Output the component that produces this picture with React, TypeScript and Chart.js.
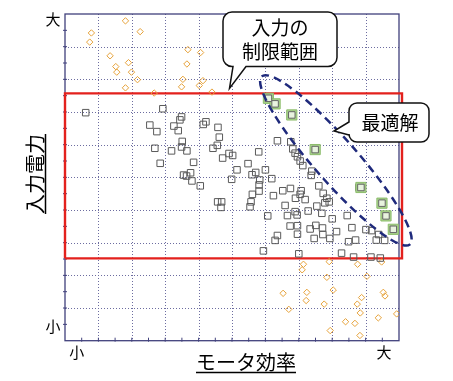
import React, { useEffect, useRef } from 'react';
import { Chart, registerables } from 'chart.js';
Chart.register(...registerables);

// Axis tick labels (placed at scale values)
const xTickValues = [0.35, 9.55];
const xTickLabels = ['小', '大'];
const yTickValues = [0.45, 9.83];
const yTickLabels = ['小', '大'];
const xTitle = 'モータ効率';
const yTitle = '入力電力';
const limitLabel = ['入力の', '制限範囲'];
const optimumLabel = '最適解';

// Input limit rectangle (data units)
const limitX = [0, 10.09];
const limitY = [2.52, 7.57];

// Feasible designs (gray squares)
const grayX = [0.62, 2.93, 3.49, 3.44, 2.54, 3.26, 2.75, 3.39, 3.51, 2.69, 3.19, 3.49, 3.65, 2.85, 3.85, 3.55, 3.64, 3.76, 3.80, 4.05,
  4.22, 4.14, 4.58, 4.62, 4.56, 4.43, 6.36, 6.76, 4.72, 4.91, 5.02, 5.80, 5.48, 5.15, 5.71, 5.60, 6.00, 6.19, 4.99, 5.83,
  5.81, 5.81, 6.82, 6.89, 6.96, 7.04, 7.12, 7.39, 7.37, 5.61, 5.57, 5.54, 4.57, 4.69, 4.67, 6.24, 6.52, 6.75, 6.59, 6.89,
  6.07, 6.66, 6.74, 6.96, 6.96, 6.36, 6.29, 5.94, 7.00, 7.07, 7.04, 7.60, 7.73, 7.84, 7.91, 7.78, 6.90, 7.19, 7.54, 6.95,
  7.28, 7.69, 8.00, 8.45, 7.34, 7.51, 7.71, 7.72, 7.93, 7.46, 8.13, 8.59, 9.01, 9.18, 9.39, 9.32, 9.57, 8.49, 8.70, 8.28,
  8.64, 9.16, 9.44, 8.80];
const grayY = [6.98, 7.10, 6.85, 6.76, 6.60, 6.57, 6.40, 6.43, 6.10, 5.89, 5.81, 5.93, 5.81, 5.43, 5.46, 5.07, 5.04, 5.14, 4.89, 4.74,
  6.70, 6.62, 6.53, 6.23, 5.98, 5.89, 6.12, 6.09, 5.59, 5.73, 5.67, 5.78, 5.42, 5.23, 5.15, 5.08, 5.23, 4.96, 4.94, 4.92,
  4.77, 4.58, 5.87, 5.74, 5.63, 5.50, 5.36, 5.19, 5.06, 4.48, 4.25, 4.10, 4.25, 4.25, 4.08, 4.44, 4.59, 4.66, 4.14, 3.95,
  3.82, 3.83, 3.51, 3.52, 3.26, 3.22, 3.07, 2.75, 2.66, 4.59, 4.48, 4.74, 4.51, 4.36, 4.25, 4.22, 4.36, 4.32, 4.12, 3.85,
  3.97, 3.90, 3.73, 3.83, 3.42, 3.53, 3.45, 3.25, 3.13, 3.13, 3.34, 3.46, 3.40, 3.37, 3.25, 3.08, 3.07, 3.03, 3.08, 2.68,
  2.56, 2.56, 2.53, 4.69];

// Designs outside the input limit (orange diamonds)
const orangeX = [1.81, 0.79, 2.25, 0.74, 1.35, 3.68, 4.06, 1.52, 1.90, 1.55, 1.99, 3.65, 2.17, 3.53, 4.13, 1.81, 3.49, 4.02, 2.67, 4.40,
  7.91, 7.14, 7.10, 8.76, 9.48, 7.84, 9.04, 6.53, 7.24, 7.22, 8.03, 9.53, 9.58, 8.88, 8.75, 7.76, 6.70, 8.84, 9.38, 9.93,
  8.40, 8.68, 7.94, 8.83];
const orangeY = [9.79, 9.42, 9.46, 9.14, 8.72, 8.91, 8.82, 8.39, 8.51, 8.22, 8.22, 8.47, 7.99, 8.00, 7.96, 7.74, 7.77, 7.81, 7.58, 7.61,
  2.42, 2.34, 2.17, 2.34, 2.41, 1.94, 1.97, 1.45, 1.48, 1.23, 1.55, 1.48, 1.37, 1.32, 1.12, 1.12, 0.96, 0.85, 0.70, 0.82,
  0.58, 0.53, 0.31, 0.16];

// Optimal designs (green)
const greenX = [6.09, 6.29, 6.79, 7.49, 8.86, 9.49, 9.61, 9.83];
const greenY = [7.42, 7.25, 6.91, 5.85, 4.69, 4.21, 3.82, 3.41];

// Optimum region ellipse centre (data units)
const ellipseCenter = { x: 8.11, y: 5.52 };

const JP = '"Noto Sans CJK JP", "Noto Sans", sans-serif';

const decor = {
  id: 'decor',
  beforeDatasetsDraw(chart: any) {
    const { ctx, chartArea: a, scales } = chart;
    const x = scales.x, y = scales.y;
    ctx.save();
    ctx.strokeStyle = '#6c6ca0';
    ctx.lineWidth = 1;
    ctx.setLineDash([1, 2]);
    for (let v = 1; v < 10; v++) {
      const px = Math.round(x.getPixelForValue(v)) + 0.5;
      ctx.beginPath(); ctx.moveTo(px, a.top); ctx.lineTo(px, a.bottom); ctx.stroke();
      const py = Math.round(y.getPixelForValue(v)) + 0.5;
      ctx.beginPath(); ctx.moveTo(a.left, py); ctx.lineTo(a.right, py); ctx.stroke();
    }
    ctx.setLineDash([]);
    ctx.strokeStyle = '#40407c';
    ctx.lineWidth = 1.3;
    ctx.strokeRect(a.left, a.top, a.right - a.left, a.bottom - a.top);
    ctx.lineWidth = 1;
    for (let v = 0.5; v < 10; v += 0.5) {
      const px = x.getPixelForValue(v);
      ctx.beginPath(); ctx.moveTo(px, a.bottom + 1); ctx.lineTo(px, a.bottom - 3); ctx.stroke();
      const py = y.getPixelForValue(v);
      ctx.beginPath(); ctx.moveTo(a.left - 2, py); ctx.lineTo(a.left + 2, py); ctx.stroke();
    }
    // tick labels
    ctx.fillStyle = '#000';
    ctx.font = `15px ${JP}`;
    ctx.textAlign = 'center';
    ctx.textBaseline = 'middle';
    xTickValues.forEach((v, i) => ctx.fillText(xTickLabels[i], x.getPixelForValue(v), a.bottom + 12));
    yTickValues.forEach((v, i) => ctx.fillText(yTickLabels[i], a.left - 12, y.getPixelForValue(v)));
    // axis titles
    ctx.font = `20px ${JP}`;
    const cx = (a.left + a.right) / 2 + 14;
    ctx.fillText(xTitle, cx, 362);
    const wx = ctx.measureText(xTitle).width;
    ctx.lineWidth = 1.5;
    ctx.strokeStyle = '#000';
    ctx.beginPath(); ctx.moveTo(cx - wx / 2, 372.5); ctx.lineTo(cx + wx / 2, 372.5); ctx.stroke();
    ctx.save();
    ctx.translate(35, 174);
    ctx.rotate(-Math.PI / 2);
    ctx.fillText(yTitle, 0, 0);
    const wy = ctx.measureText(yTitle).width;
    ctx.beginPath(); ctx.moveTo(-wy / 2, 10.5); ctx.lineTo(wy / 2, 10.5); ctx.stroke();
    ctx.restore();
    ctx.restore();
  },
  afterDraw(chart: any) {
    const { ctx, scales } = chart;
    const x = scales.x, y = scales.y;
    ctx.save();
    // dashed ellipse
    ctx.strokeStyle = '#1f2a7c';
    ctx.lineWidth = 2.5;
    ctx.setLineDash([8, 5]);
    ctx.beginPath();
    ctx.ellipse(x.getPixelForValue(ellipseCenter.x), y.getPixelForValue(ellipseCenter.y), 112, 21.5, (48.6 * Math.PI) / 180, 0, Math.PI * 2);
    ctx.stroke();
    ctx.setLineDash([]);
    // callout 1
    ctx.lineWidth = 1.5;
    ctx.strokeStyle = '#111';
    ctx.fillStyle = '#fff';
    ctx.beginPath();
    ctx.moveTo(246, 66.5);
    ctx.lineTo(328, 66.5);
    ctx.arcTo(337, 66.5, 337, 57, 9);
    ctx.lineTo(337, 21);
    ctx.arcTo(337, 12, 328, 12, 9);
    ctx.lineTo(232, 12);
    ctx.arcTo(223, 12, 223, 21, 9);
    ctx.lineTo(223, 57);
    ctx.arcTo(223, 66.5, 232, 66.5, 9);
    ctx.lineTo(233, 66.5);
    ctx.lineTo(229.5, 88.5);
    ctx.closePath();
    ctx.fill();
    ctx.stroke();
    // callout 2
    ctx.beginPath();
    ctx.moveTo(349, 122);
    ctx.lineTo(349, 111);
    ctx.arcTo(349, 103, 357, 103, 8);
    ctx.lineTo(421, 103);
    ctx.arcTo(429, 103, 429, 111, 8);
    ctx.lineTo(429, 134);
    ctx.arcTo(429, 142, 421, 142, 8);
    ctx.lineTo(357, 142);
    ctx.arcTo(349, 142, 349, 134, 8);
    ctx.lineTo(349, 135);
    ctx.lineTo(334, 131);
    ctx.closePath();
    ctx.fill();
    ctx.stroke();
    ctx.fillStyle = '#000';
    ctx.font = `19px ${JP}`;
    ctx.textAlign = 'center';
    ctx.textBaseline = 'middle';
    ctx.fillText(limitLabel[0], 280, 28);
    ctx.fillText(limitLabel[1], 280, 52);
    ctx.fillText(optimumLabel, 390, 123);
    ctx.restore();
  },
};

export default function App() {
  const ref = useRef<HTMLCanvasElement | null>(null);
  useEffect(() => {
    if (!ref.current) return;
    const pts = (xs: number[], ys: number[]) => xs.map((v, i) => ({ x: v, y: ys[i] }));
    const rect = [
      { x: limitX[0], y: limitY[0] }, { x: limitX[1], y: limitY[0] },
      { x: limitX[1], y: limitY[1] }, { x: limitX[0], y: limitY[1] }, { x: limitX[0], y: limitY[0] },
    ];
    const chart = new Chart(ref.current, {
      type: 'scatter',
      data: {
        datasets: [
          { type: 'scatter', data: pts(greenX, greenY), pointStyle: 'rect', pointRadius: 4.6, borderColor: '#666', borderWidth: 1, backgroundColor: '#e8f3df', order: 1 },
          { type: 'scatter', data: pts(greenX, greenY), pointStyle: 'rect', pointRadius: 7.2, borderColor: '#8dbd6c', borderWidth: 1, backgroundColor: '#a9d28e', order: 2 },
          { type: 'scatter', data: pts(grayX, grayY), pointStyle: 'rect', pointRadius: 4.6, borderColor: '#5a5a5a', borderWidth: 1, backgroundColor: 'rgba(0,0,0,0)', order: 3 },
          { type: 'scatter', data: pts(orangeX, orangeY), pointStyle: 'rectRot', pointRadius: 3.2, borderColor: '#e6a23a', borderWidth: 1, backgroundColor: 'rgba(0,0,0,0)', order: 4 },
          { type: 'line', data: rect, showLine: true, pointRadius: 0, borderColor: '#e3211d', borderWidth: 2.4, fill: false, tension: 0, clip: false, order: 5 } as any,
        ],
      },
      options: {
        animation: false,
        responsive: false,
        events: [],
        layout: { padding: { left: 65, top: 14, right: 54, bottom: 40.3 } },
        plugins: { legend: { display: false }, tooltip: { enabled: false } },
        scales: {
          x: { type: 'linear', min: 0, max: 10, ticks: { display: false }, grid: { display: false, drawTicks: false }, border: { display: false } },
          y: { type: 'linear', min: 0, max: 10, ticks: { display: false }, grid: { display: false, drawTicks: false }, border: { display: false } },
        },
      },
      plugins: [decor],
    });
    return () => chart.destroy();
  }, []);
  return (
    <div style={{ position: 'fixed', left: 0, top: 0, width: 453, height: 381, background: '#fff' }}>
      <canvas ref={ref} width={453} height={381} style={{ display: 'block' }} />
    </div>
  );
}
